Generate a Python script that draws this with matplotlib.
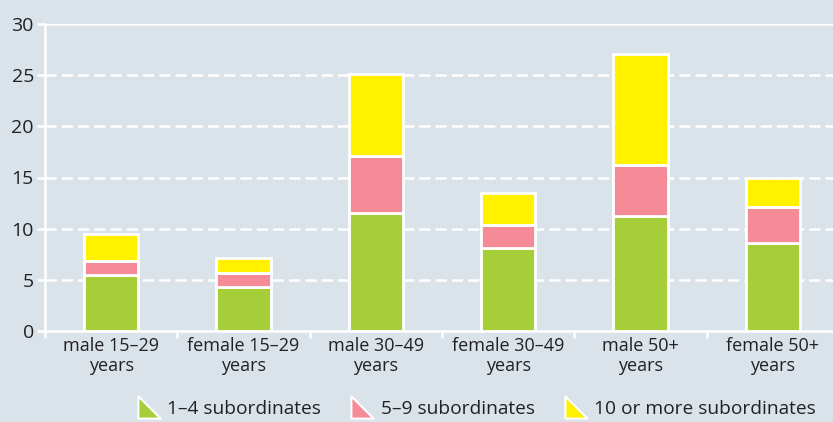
import matplotlib
matplotlib.use("Agg")
import matplotlib.pyplot as plt
from matplotlib.lines import Line2D
from matplotlib.path import Path
import numpy as np

categories = ["male 15–29\nyears", "female 15–29\nyears", "male 30–49\nyears",
              "female 30–49\nyears", "male 50+\nyears", "female 50+\nyears"]
series_names = ["1–4 subordinates", "5–9 subordinates", "10 or more subordinates"]
s1 = [5.5, 4.3, 11.5, 8.1, 11.2, 8.6]
s2 = [1.3, 1.4, 5.6, 2.3, 5.0, 3.5]
s3 = [2.7, 1.4, 8.0, 3.1, 10.9, 2.9]
colors = ["#a6ce39", "#f48b97", "#fff100"]
yticks = [0, 5, 10, 15, 20, 25, 30]

plt.rcParams['font.family'] = ['Open Sans', 'DejaVu Sans']
bg = "#dae2ea"
fig = plt.figure(figsize=(8.33, 4.22), dpi=100, facecolor=bg)
ax = fig.add_axes([45/833, 91/422, 794/833, 307/422], facecolor=bg)

x = np.arange(len(categories))
bottom = np.zeros(len(categories))
for vals, c, name in zip([s1, s2, s3], colors, series_names):
    ax.bar(x, vals, width=0.41, bottom=bottom, color=c, edgecolor="white",
           linewidth=2, zorder=3, label=name)
    bottom += np.array(vals)

ax.set_xlim(-0.5, 5.5)
ax.set_ylim(0, 30)
ax.set_yticks(yticks)
ax.set_yticklabels([str(v) for v in yticks], fontsize=14, color="#222222")
for y in yticks[1:-1]:
    ax.axhline(y, color="white", lw=1.8, ls=(0, (4.5, 2)), zorder=1)
ax.axhline(30, color="white", lw=1.8, zorder=1)

ax.set_xticks(x)
ax.set_xticklabels(categories, fontsize=13, color="#222222", linespacing=1.2)
ax.set_xticks(np.arange(-0.5, 6.0, 1.0), minor=True)
ax.tick_params(axis="x", which="major", length=0, pad=4)
ax.tick_params(axis="x", which="minor", length=5, width=1.8, color="white")
ax.tick_params(axis="y", length=6, width=1.8, color="white", pad=2)

for s in ["top", "right"]:
    ax.spines[s].set_visible(False)
for s in ["left", "bottom"]:
    ax.spines[s].set_color("white")
    ax.spines[s].set_linewidth(1.8)

tri = Path([(-1, -1), (-1, 1), (1, -1), (-1, -1)],
           [Path.MOVETO, Path.LINETO, Path.LINETO, Path.CLOSEPOLY])
handles = [Line2D([], [], marker=tri, ls="none", markersize=16,
                  markerfacecolor=c, markeredgecolor="white", markeredgewidth=1.5)
           for c in colors]
fig.legend(handles, series_names, loc="lower right", bbox_to_anchor=(1.0, -0.031),
           ncol=3, frameon=False, fontsize=13.8, handlelength=1.3,
           handletextpad=0.3, columnspacing=1.5, labelcolor="#222222")

fig.savefig("out.png", dpi=100, facecolor=bg)
